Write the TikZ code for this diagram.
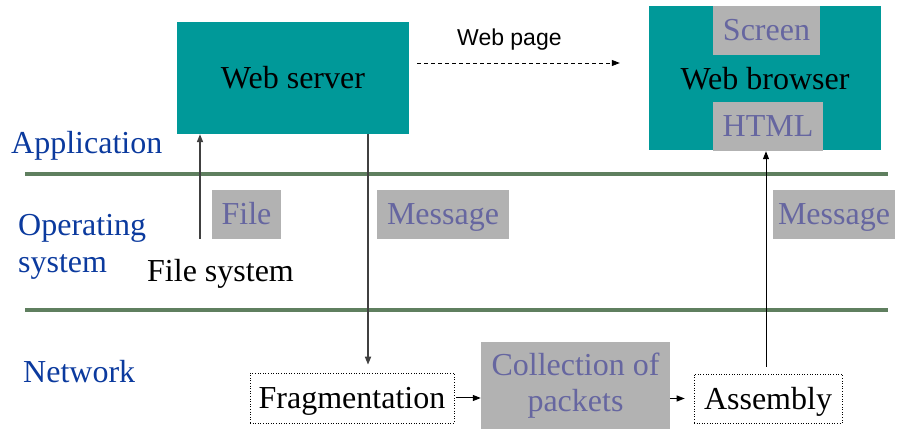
\documentclass[tikz,border=0pt]{standalone}
\usepackage{fontspec}
\setmainfont{Liberation Serif}
\newfontfamily\arialfont{Liberation Sans}
\usetikzlibrary{arrows.meta}
\definecolor{teal1}{HTML}{009999}
\definecolor{grayb}{HTML}{B2B2B2}
\definecolor{graytxt}{HTML}{6666A0}
\definecolor{bluetxt}{HTML}{0B3A9E}
\definecolor{greenln}{HTML}{5F7F5F}
\tikzset{
  big/.style={font=\fontsize{32}{36}\selectfont},
  tealbox/.style={fill=teal1, draw=none, inner sep=0pt, big, text height=21pt, text depth=0pt},
  graybox/.style={fill=grayb, draw=none, inner sep=0pt, big, text=graytxt, text height=21pt, text depth=0pt},
  dotbox/.style={draw=black, dotted, line width=0.6pt, inner sep=0pt, big, text height=22pt, text depth=0pt},
  layerlbl/.style={big, text=bluetxt, anchor=base west, inner sep=0pt, align=left},
  plain/.style={big, anchor=base west, inner sep=0pt},
  arr/.style={-{Triangle[length=8pt,width=6pt]}, line width=1pt},
  darr/.style={-{Triangle[length=8pt,width=6pt]}, line width=1.6pt, draw=black!75},
  sep/.style={draw=greenln, line width=4pt}
}
\begin{document}
\begin{tikzpicture}[x=1pt,y=-1pt]
\useasboundingbox (0,0) rectangle (898,435);
% layer separators
\draw[sep] (25,174) -- (888,174);
\draw[sep] (25,310) -- (888,310);
% layer labels
\node[layerlbl] (lapp) at (11,154) {Application};
\node[layerlbl] (los) at (18,236) {Operating};
\node[layerlbl] (los2) at (18,273) {system};
\node[layerlbl] (lnet) at (23,383) {Network};
% application boxes
\node[tealbox, minimum width=232pt, minimum height=112pt] (ws) at (293,78) {Web server};
\node[tealbox, minimum width=232pt, minimum height=144pt] (wb) at (765,78) {};
\node[graybox, minimum width=107pt, minimum height=49pt] (scr) at (766.5,30.5) {Screen};
\node[graybox, minimum width=110pt, minimum height=49pt] (html) at (768,126.5) {HTML};
\node[big, inner sep=0pt, anchor=base] (wbt) at (765,90) {Web browser};
% web page label
\node[font=\arialfont\fontsize{23}{26}\selectfont, anchor=base west, inner sep=0pt] (wp) at (457,46) {Web page};
\coordinate (wpy) at (0,63);
\draw[arr, dash pattern=on 4pt off 3pt, line width=0.8pt, shorten <=8pt, shorten >=29pt] (ws.east |- wpy) -- (wb.west |- wpy);
% OS layer
\node[graybox, minimum width=69pt, minimum height=49pt] (file) at (246.5,214.5) {File};
\node[graybox, minimum width=132pt, minimum height=49pt] (msg1) at (443,214.5) {Message};
\node[graybox, minimum width=122pt, minimum height=49pt] (msg2) at (834,214.5) {Message};
\node[plain] (fs) at (147,282) {File system};
% network layer
\node[dotbox, minimum width=204pt, minimum height=50pt] (frag) at (352,398) {Fragmentation};
\node[fill=grayb, inner sep=0pt, big, text=graytxt, align=center, minimum width=189pt, minimum height=87pt] (coll) at (575.5,385.5) {Collection of\\packets};
\node[dotbox, minimum width=148pt, minimum height=49pt] (asm) at (768,398.5) {Assembly};
% connectors
\coordinate (fup) at (200,239);
\draw[darr] (fup) -- (ws.south -| fup);
\coordinate (dn) at (368,0);
\draw[darr] (ws.south -| dn) -- ([yshift=8pt]frag.north -| dn);
\coordinate (up) at (766,0);
\draw[arr] ([yshift=7pt]asm.north -| up) -- (html.south -| up);
\draw[arr, shorten <=2pt] (frag.east) -- (frag.east -| coll.west);
\draw[arr, shorten >=9pt] (coll.east |- asm.center) -- (asm.west);
\end{tikzpicture}
\end{document}
